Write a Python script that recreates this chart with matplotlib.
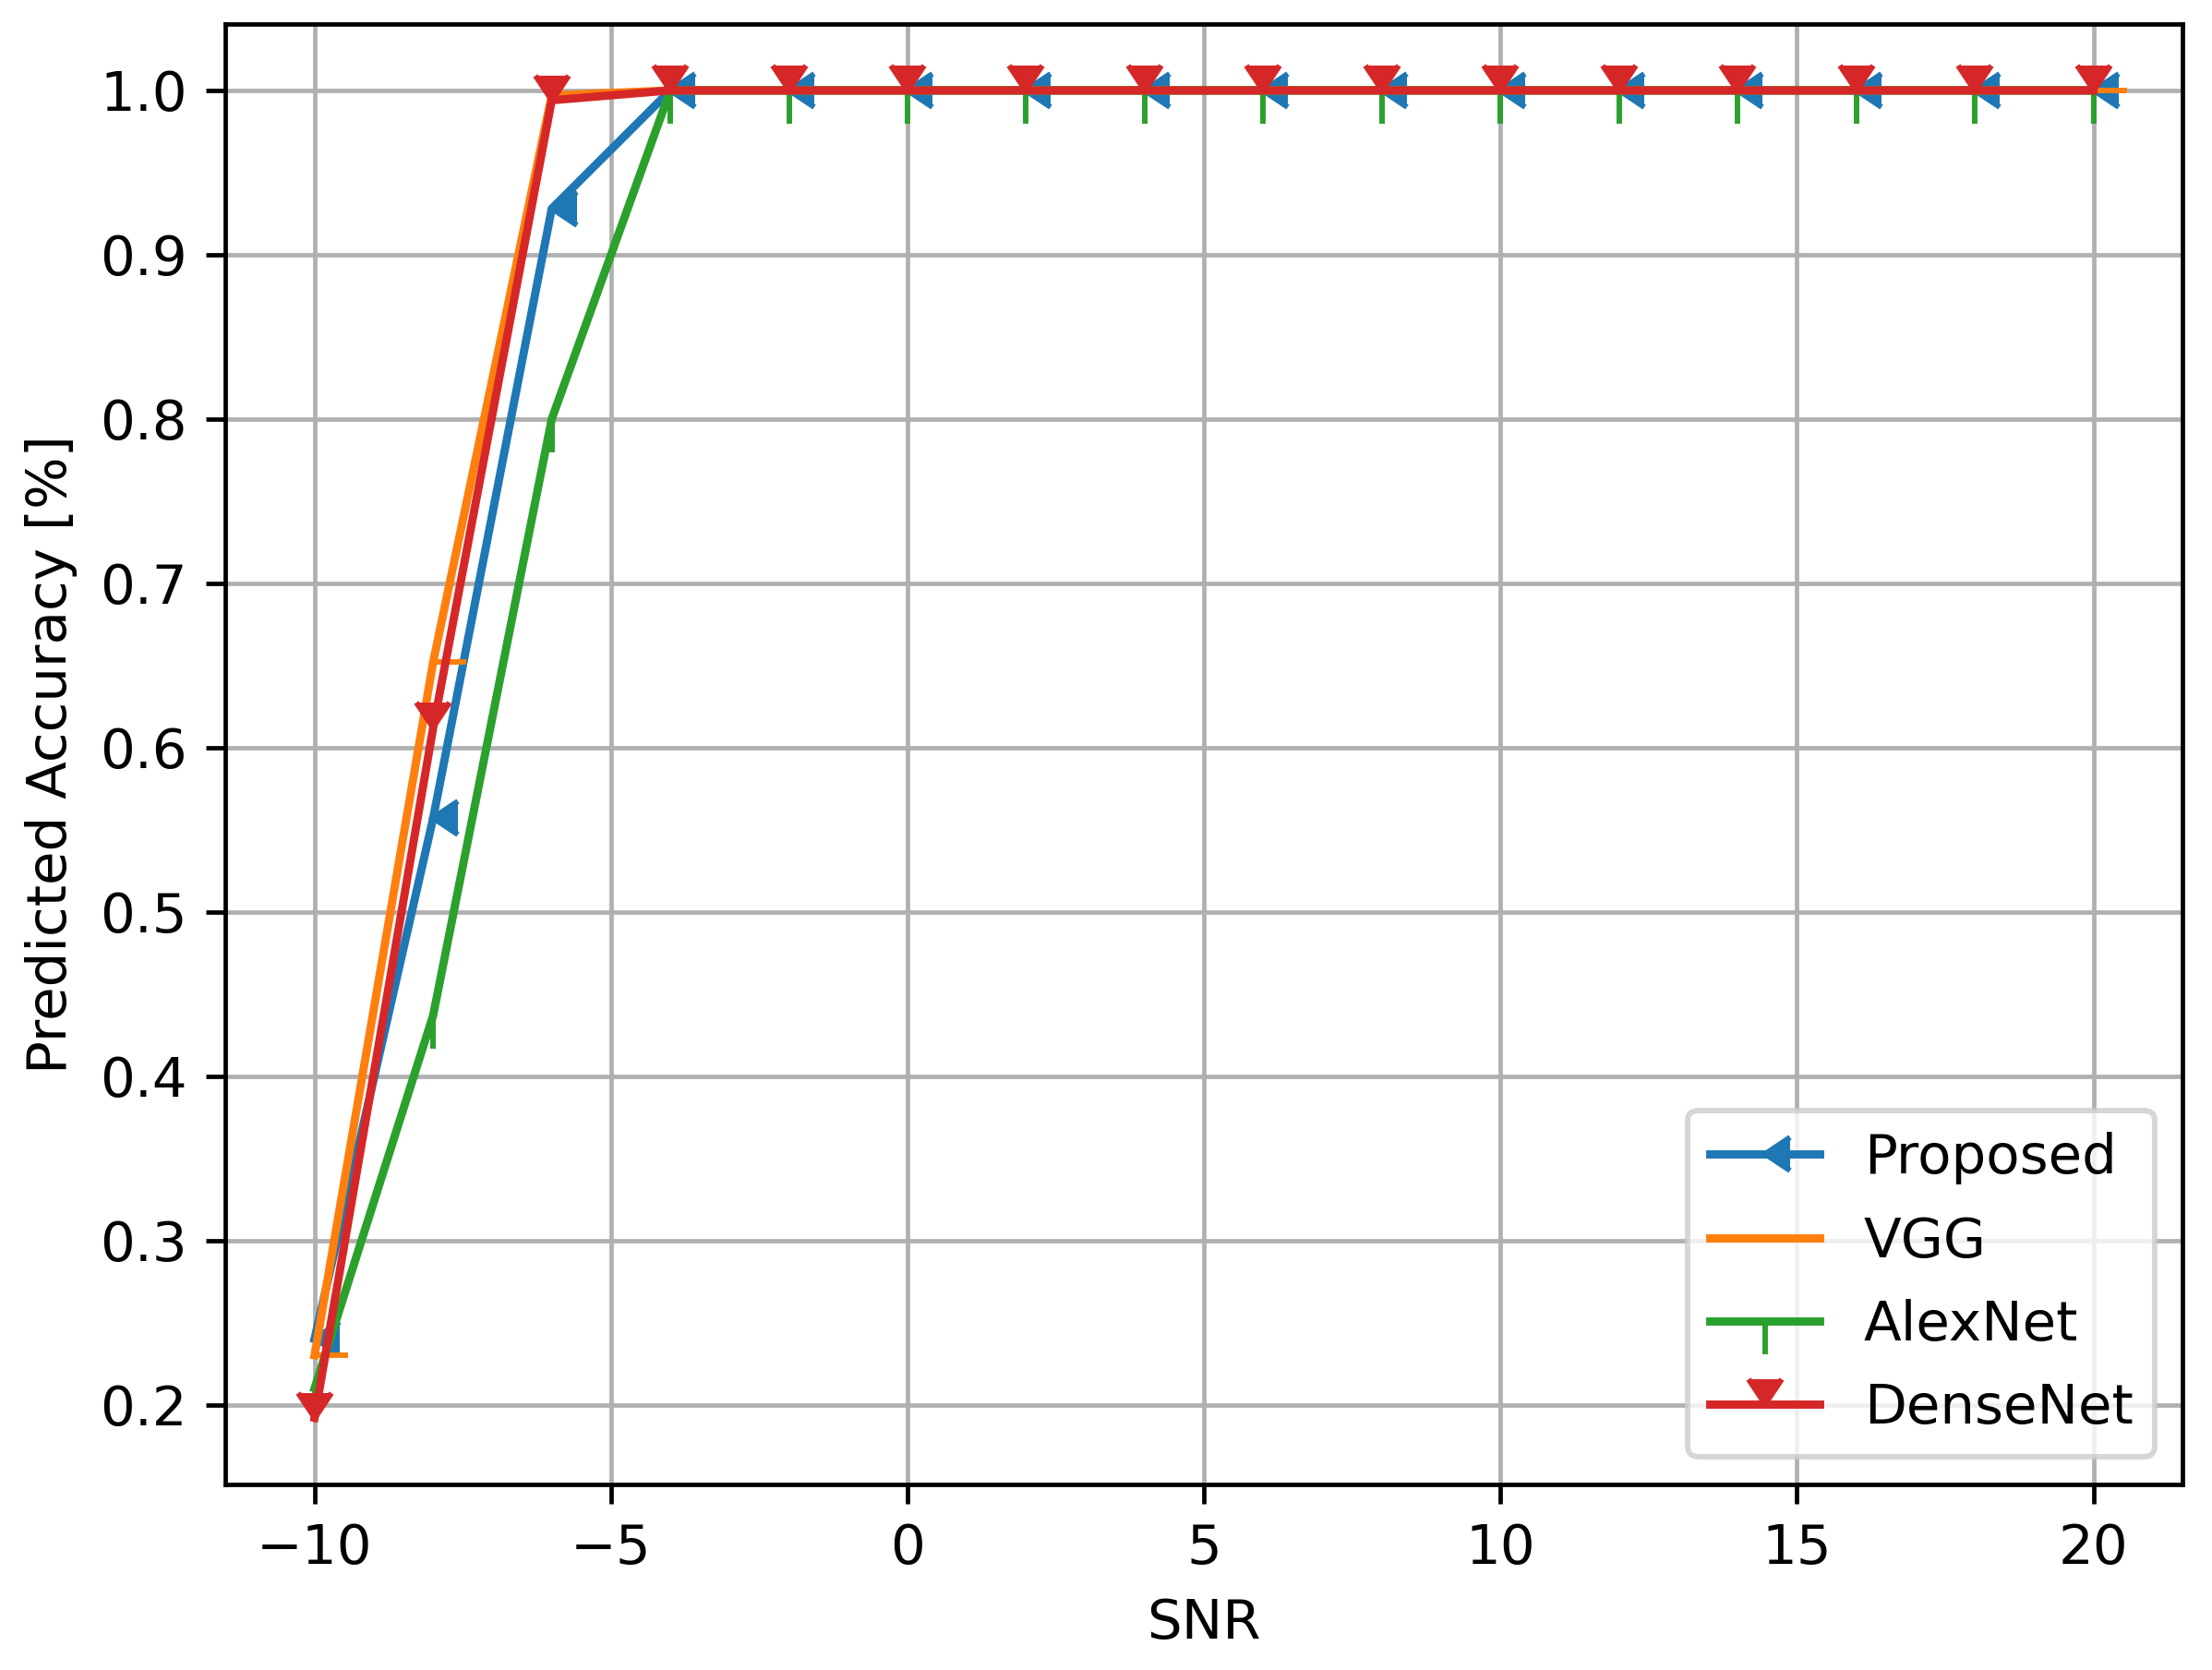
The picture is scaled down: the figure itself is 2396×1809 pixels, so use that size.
"""Predicted accuracy vs SNR for the four classifiers."""

import matplotlib

matplotlib.use("Agg")
import matplotlib.pyplot as plt

snr = [-10, -8, -6, -4, -2, 0, 2, 4, 6, 8, 10, 12, 14, 16, 18, 20]
proposed = [0.24, 0.557, 0.928] + [1.0] * 13
vgg = [0.23, 0.652, 0.997] + [1.0] * 13
alexnet = [0.21, 0.437, 0.80] + [1.0] * 13
densenet = [0.192, 0.612, 0.994] + [1.0] * 13

series = [
    ("Proposed", proposed, 4),  # caretleft
    ("VGG", vgg, 1),  # tickright
    ("AlexNet", alexnet, 3),  # tickdown
    ("DenseNet", densenet, 7),  # caretdown
]

DPI = 428
fig = plt.figure(figsize=(2396 / DPI, 1809 / DPI), dpi=DPI)
ax = fig.add_axes([0.102, 0.1113, 0.8846, 0.8743])

for label, values, marker in series:
    ax.plot(snr, values, marker=marker, label=label)

ax.set_xlabel("SNR")
ax.set_ylabel("Predicted Accuracy [%]")
ax.grid(True)
ax.legend(loc="lower right", labelspacing=0.56)

fig.savefig("out.png", dpi=DPI)
